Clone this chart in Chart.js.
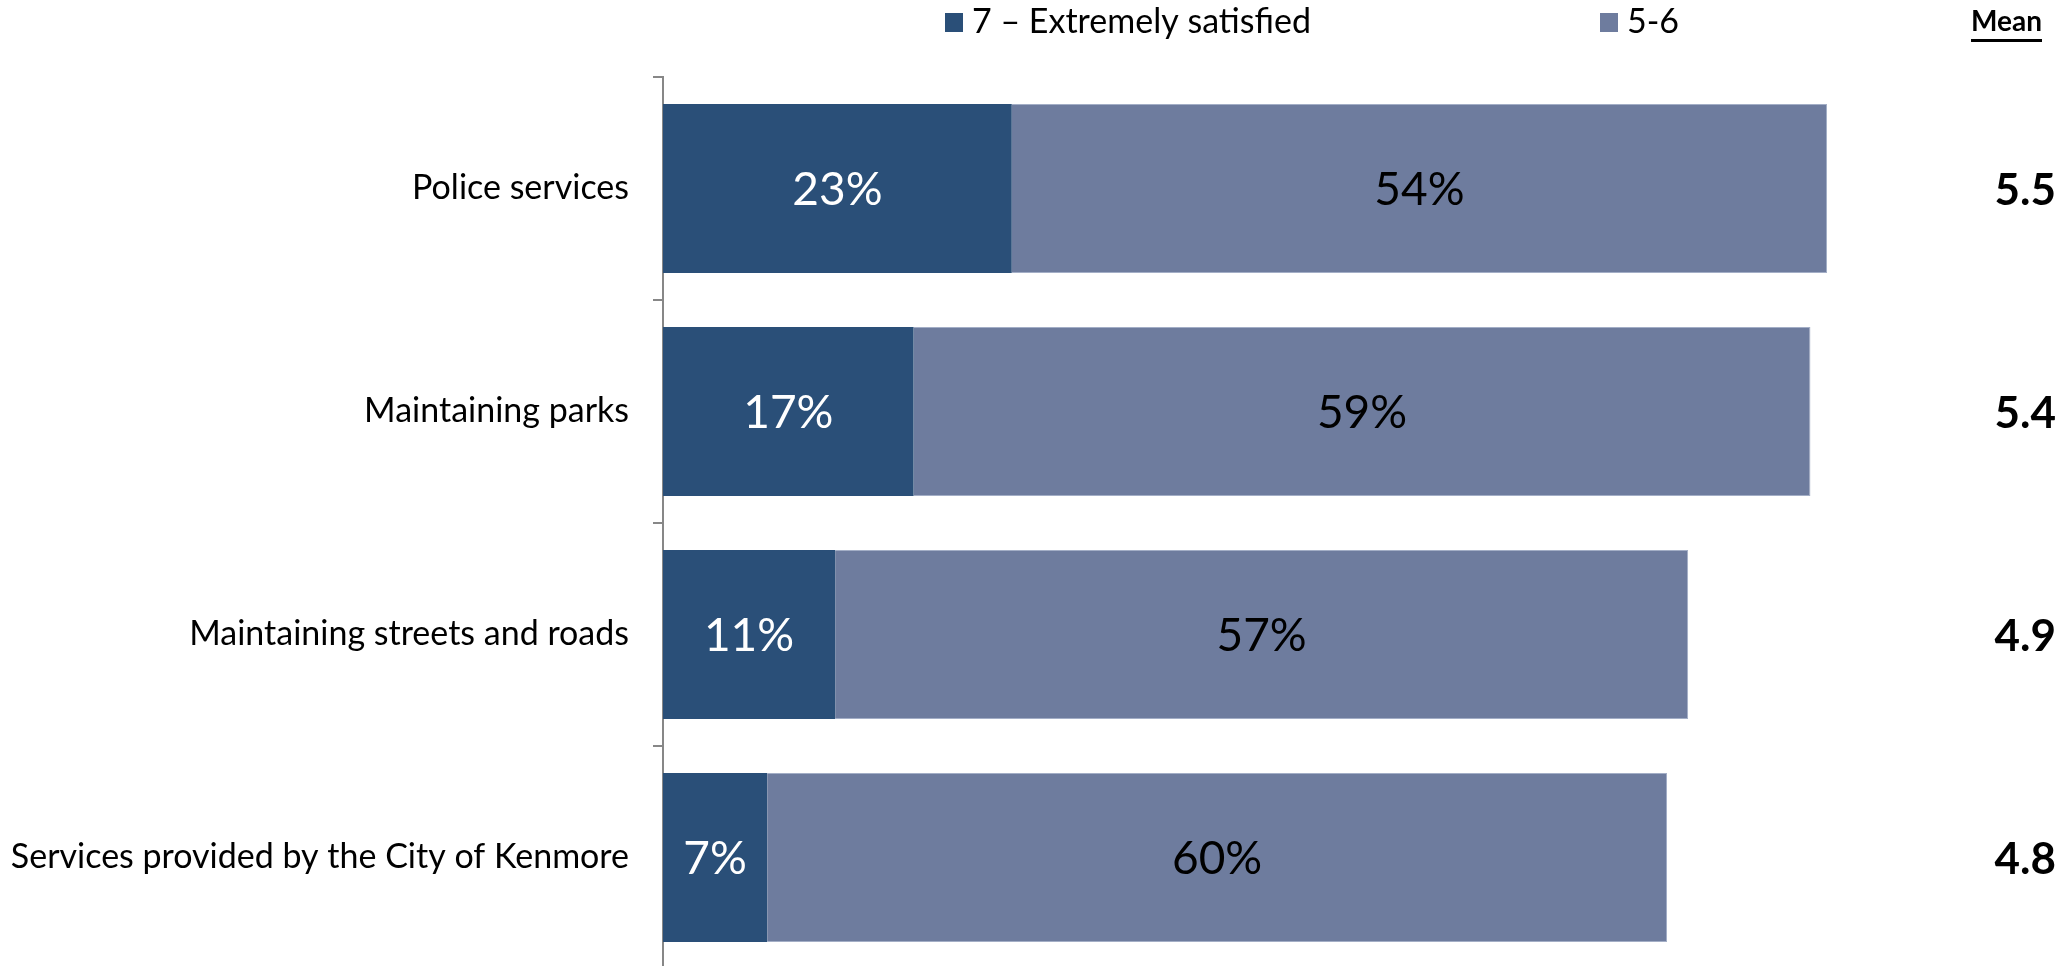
<!DOCTYPE html>
<html>
<head>
<meta charset="utf-8">
<script src="https://cdn.jsdelivr.net/npm/chart.js@4.4.1/dist/chart.umd.min.js"></script>
<style>
  html, body { margin: 0; padding: 0; background: #fff; overflow: hidden; }
  #wrap { width: 2067px; height: 966px; overflow: hidden; }
</style>
</head>
<body>
<div id="wrap"><canvas id="chart" width="2067" height="969"></canvas></div>
<script>
// categories and series
const categories = ['Police services', 'Maintaining parks', 'Maintaining streets and roads', 'Services provided by the City of Kenmore'];
const extremelySatisfied = [23.1, 16.6, 11.4, 6.9];
const satisfied56 = [54.0, 59.4, 56.5, 59.6];
const means = ['5.5', '5.4', '4.9', '4.8'];
const seriesNames = ['7 \u2013 Extremely satisfied', '5-6'];

const DARK = '#2a4f78';
const LIGHT = '#6e7c9e';

// percentage labels inside bars
const barLabels = {
    id: 'barLabels',
    afterDatasetsDraw(chart) {
        const ctx = chart.ctx;
        ctx.save();
        ctx.font = '46px Lato';
        ctx.textAlign = 'center';
        ctx.textBaseline = 'middle';
        chart.data.datasets.forEach((ds, di) => {
            const meta = chart.getDatasetMeta(di);
            meta.data.forEach((bar, i) => {
                ctx.fillStyle = di === 0 ? '#ffffff' : '#000000';
                ctx.fillText(Math.round(ds.data[i]) + '%', (bar.x + bar.base) / 2, bar.y + 2);
            });
        });
        ctx.restore();
    }
};

// mean column on the right
const meanColumn = {
    id: 'meanColumn',
    afterDraw(chart) {
        const ctx = chart.ctx;
        const y = chart.scales.y;
        ctx.save();
        ctx.fillStyle = '#000';
        ctx.textAlign = 'right';
        ctx.textBaseline = 'middle';
        ctx.font = 'bold 28px Lato';
        ctx.fillText('Mean', 2042, 22);
        const w = ctx.measureText('Mean').width;
        ctx.fillRect(2042 - w, 39, w, 3);
        ctx.font = 'bold 44px Lato';
        means.forEach((m, i) => {
            ctx.fillText(m, 2056, y.getPixelForValue(i) + 2);
        });
        ctx.restore();
    }
};

// legend drawn at the top, fed from the datasets
const topLegend = {
    id: 'topLegend',
    afterDraw(chart) {
        const ctx = chart.ctx;
        const starts = [945, 1600];
        ctx.save();
        ctx.font = '34px Lato';
        ctx.textBaseline = 'middle';
        ctx.textAlign = 'left';
        chart.data.datasets.forEach((ds, i) => {
            ctx.fillStyle = ds.backgroundColor;
            ctx.fillRect(starts[i], 13, 18, 19);
            ctx.fillStyle = '#000';
            ctx.fillText(ds.label, starts[i] + 27, 22);
        });
        ctx.restore();
    }
};

new Chart(document.getElementById('chart'), {
    type: 'bar',
    data: {
        labels: categories,
        datasets: [
            {
                label: seriesNames[0],
                data: extremelySatisfied,
                backgroundColor: DARK,
                borderWidth: 0
            },
            {
                label: seriesNames[1],
                data: satisfied56,
                backgroundColor: LIGHT,
                borderColor: '#a3aec6',
                borderWidth: 1
            }
        ]
    },
    options: {
        indexAxis: 'y',
        responsive: false,
        animation: false,
        categoryPercentage: 1,
        barPercentage: 0.758,
        layout: { padding: { top: 77, right: 15, bottom: 0, left: 0 } },
        scales: {
            x: {
                stacked: true,
                display: false,
                min: 0,
                max: 92
            },
            y: {
                stacked: true,
                afterFit(scale) {
                    scale.width = 663;
                    scale.paddingTop = 0;
                    scale.paddingBottom = 0;
                },
                border: { display: true, color: '#878787', width: 2 },
                grid: {
                    display: true,
                    offset: true,
                    drawOnChartArea: false,
                    drawTicks: true,
                    tickLength: 10,
                    color: '#878787',
                    lineWidth: 2
                },
                ticks: {
                    padding: 24,
                    color: '#000',
                    font: { family: 'Lato', size: 34 }
                }
            }
        },
        plugins: {
            legend: { display: false },
            tooltip: { enabled: false }
        }
    },
    plugins: [barLabels, meanColumn, topLegend]
});
</script>
</body>
</html>
